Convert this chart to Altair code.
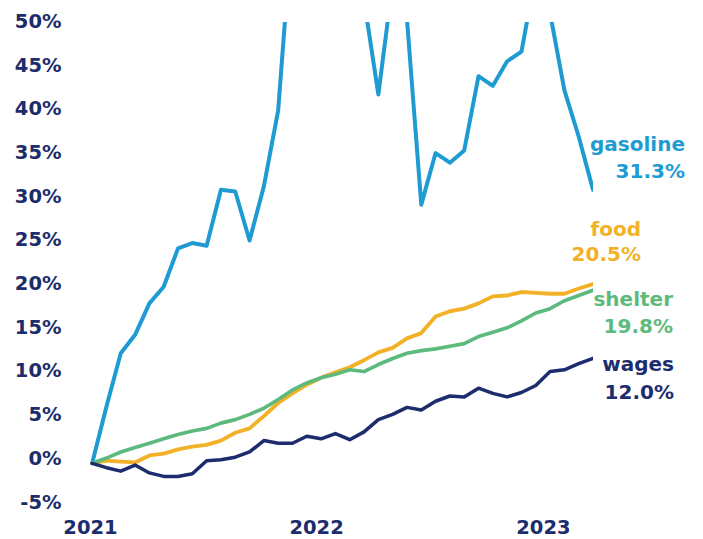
import altair as alt
import pandas as pd

# ---- data (cumulative % change since start) ----
months = list(range(36))
gasoline = [0, 6.5, 12.6, 14.7, 18.3, 20.2, 24.6, 25.2, 24.9, 31.3, 31.1, 25.5,
            31.7, 40.4, 62, 75, 85, 80, 66, 53, 42.2, 55, 50.8, 29.6,
            35.5, 34.4, 35.8, 44.3, 43.2, 46.0, 47.1, 56, 51.5, 42.7, 37.4, 31.3]
food = [0, 0.3, 0.2, 0.1, 0.9, 1.1, 1.6, 1.9, 2.1, 2.6, 3.5, 4.0,
        5.4, 6.9, 8.0, 9.0, 9.8, 10.4, 11.0, 11.8, 12.7, 13.2, 14.3, 14.9,
        16.8, 17.4, 17.7, 18.3, 19.1, 19.2, 19.6, 19.5, 19.4, 19.4, 20.0, 20.5]
shelter = [0, 0.6, 1.3, 1.8, 2.3, 2.8, 3.3, 3.7, 4.0, 4.6, 5.0, 5.6,
           6.3, 7.3, 8.4, 9.2, 9.8, 10.2, 10.7, 10.5, 11.3, 12.0, 12.6, 12.9,
           13.1, 13.4, 13.7, 14.5, 15.0, 15.5, 16.3, 17.2, 17.7, 18.6, 19.2, 19.8]
wages = [0, -0.5, -0.9, -0.2, -1.1, -1.5, -1.5, -1.2, 0.3, 0.4, 0.7, 1.3,
         2.6, 2.3, 2.3, 3.1, 2.8, 3.4, 2.7, 3.6, 5.0, 5.6, 6.4, 6.1,
         7.1, 7.7, 7.6, 8.6, 8.0, 7.6, 8.1, 8.9, 10.5, 10.7, 11.4, 12.0]

series_names = ["gasoline", "food", "shelter", "wages"]
series_values = [gasoline, food, shelter, wages]
year_labels = ["2021", "2022", "2023"]
year_ticks = [-0.15, 15.65, 31.5]
y_ticks = [-5, 0, 5, 10, 15, 20, 25, 30, 35, 40, 45, 50]

# ---- styles ----
colors = ["#1E9BD3", "#F2B126", "#5DBA7D", "#1C2C6C"]
widths = [4, 3.5, 3.5, 3.5]
navy = "#1C2C6C"
FONT = "DejaVu Sans"
# label positions (pixels inside plot): right edge x, center y of name / value lines
label_pos = {
    "gasoline": (595, 123, 150),
    "food": (551, 208, 233),
    "shelter": (583, 278, 305),
    "wages": (584, 343, 371),
}

rows = []
for name, vals in zip(series_names, series_values):
    for m, v in zip(months, vals):
        rows.append({"month": m, "value": v, "series": name})
df = pd.DataFrame(rows)

x_expr = " : ".join(
    [f"datum.value < {(year_ticks[i] + year_ticks[i + 1]) / 2} ? '{year_labels[i]}'"
     for i in range(len(year_labels) - 1)] + [f"'{year_labels[-1]}'"]
)

lines = alt.Chart(df).mark_line(strokeJoin="round", strokeCap="round", clip=True).encode(
    x=alt.X("month:Q",
            scale=alt.Scale(domain=[-0.15, 35], nice=False, zero=False),
            axis=alt.Axis(values=year_ticks, labelExpr=x_expr, grid=False, domain=False,
                          ticks=False, labelFlush=False, labelPadding=11, title=None,
                          labelFontSize=19.5, labelFont=FONT, labelFontWeight="bold",
                          labelColor=navy, labelBaseline="top", labelAlign="center")),
    y=alt.Y("value:Q",
            scale=alt.Scale(domain=[-5, 50.5], nice=False, zero=False),
            axis=alt.Axis(values=y_ticks, labelExpr="datum.value + '%'", grid=False,
                          domain=False, ticks=False, labelPadding=29, title=None,
                          labelFontSize=19.5, labelFont=FONT, labelFontWeight="bold",
                          labelColor=navy, labelOffset=-5)),
    color=alt.Color("series:N", scale=alt.Scale(domain=series_names, range=colors), legend=None),
    strokeWidth=alt.StrokeWidth("series:N", scale=alt.Scale(domain=series_names, range=widths),
                                legend=None),
    order=alt.Order("month:Q"),
)

layers = [lines]
base = alt.Chart(pd.DataFrame({"k": [0]}))
for name, vals, col in zip(series_names, series_values, colors):
    xr, y1, y2 = label_pos[name]
    for txt, yy in [(name, y1), (f"{vals[-1]:.1f}%", y2)]:
        layers.append(
            base.mark_text(align="right", baseline="middle", font=FONT, fontWeight="bold",
                           fontSize=20, color=col).encode(
                x=alt.value(xr), y=alt.value(yy), text=alt.value(txt))
        )

chart = alt.layer(*layers).properties(
    width=503, height=485,
    autosize=alt.AutoSizeParams(type="none"),
    padding={"left": 82, "top": 14, "right": 100, "bottom": 31},
).configure(background="white").configure_view(stroke=None, strokeWidth=0)

chart.save("out.html", embed_options={"renderer": "svg", "actions": False})
